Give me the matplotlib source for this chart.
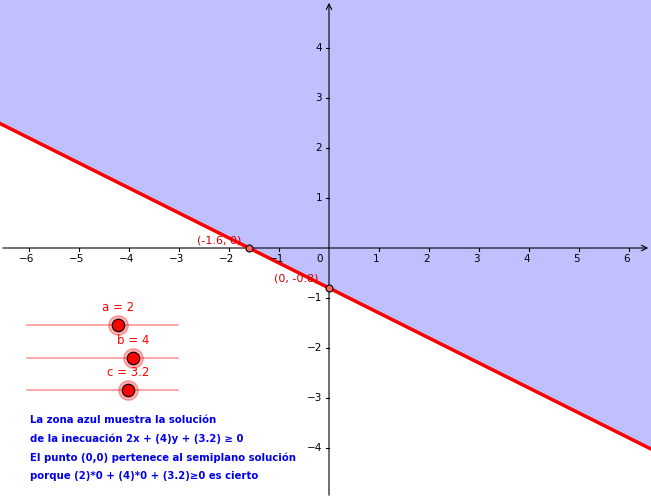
import matplotlib
matplotlib.use("Agg")
import matplotlib.pyplot as plt
import numpy as np

a, b, c = 2, 4, 3.2
slider_names = ["a = 2", "b = 4", "c = 3.2"]
slider_pos = [0.60, 0.70, 0.67]  # fraction along slider
xticks = [-6, -5, -4, -3, -2, -1, 1, 2, 3, 4, 5, 6]
yticks = [-4, -3, -2, -1, 1, 2, 3, 4]
text_lines = ["La zona azul muestra la solución",
              "de la inecuación 2x + (4)y + (3.2) ≥ 0",
              "El punto (0,0) pertenece al semiplano solución",
              "porque (2)*0 + (4)*0 + (3.2)≥0 es cierto"]

xmin, xmax, ymin, ymax = -6.58, 6.44, -5.0, 4.96
fig = plt.figure(figsize=(6.51, 4.98), dpi=100)
ax = fig.add_axes([0, 0, 1, 1])
ax.set_xlim(xmin, xmax); ax.set_ylim(ymin, ymax)
ax.axis("off")

xs = np.array([xmin, xmax])
ys = -(a * xs + c) / b
ax.fill_between(xs, ys, ymax + 1, color="#c0c0ff", lw=0, zorder=0)
ax.plot(xs, ys, color="#ff0000", lw=2.5, zorder=3)

ax.annotate("", xy=(xmax, 0), xytext=(xmin, 0), arrowprops=dict(arrowstyle="->", lw=0.8, color="black"), zorder=2)
ax.annotate("", xy=(0, ymax), xytext=(0, ymin), arrowprops=dict(arrowstyle="->", lw=0.8, color="black"), zorder=2)
for t in xticks:
    ax.plot([t, t], [0, -0.06], color="black", lw=0.8)
    ax.text(t - 0.05, -0.12, f"{t}".replace("-", "−"), ha="center", va="top", fontsize=7.5)
for t in yticks:
    ax.plot([0, -0.06], [t, t], color="black", lw=0.8)
    ax.text(-0.14, t, f"{t}".replace("-", "−"), ha="right", va="center", fontsize=7.5)
ax.text(-0.12, -0.12, "0", ha="right", va="top", fontsize=7.5)

x0 = -c / a
y0 = -c / b
ax.plot([x0, 0], [0, y0], "o", ms=5, mfc="#ff6666", mec="black", mew=0.8, zorder=5)
ax.text(x0 - 0.15, 0.05, f"({x0:g}, 0)", color="#cc0000", ha="right", va="bottom", fontsize=8)
ax.text(-0.2, y0 + 0.1, f"(0, {y0:g})", color="#cc0000", ha="right", va="bottom", fontsize=8)

fx = lambda px: xmin + px / 50
fy = lambda py: ymax - py / 50
for i, (name, p) in enumerate(zip(slider_names, slider_pos)):
    py = 325 + i * 32.5
    x1, x2 = fx(27), fx(178)
    ax.plot([x1, x2], [fy(py)] * 2, color="#ff9999", lw=1.2, zorder=4)
    sx = x1 + p * (x2 - x1)
    ax.plot(sx, fy(py), "o", ms=14, color="#ff0000", alpha=0.3, zorder=5)
    ax.plot(sx, fy(py), "o", ms=9, mfc="#ff0000", mec="black", mew=0.8, zorder=6)
    ax.text(sx, fy(py - 11), name, color="#ff0000", ha="center", va="bottom", fontsize=8.5)

for i, t in enumerate(text_lines):
    ax.text(fx(30), fy(420 + i * 18.7), t, color="#0000ee", fontweight="bold", fontsize=7.3, ha="left", va="center")

fig.savefig("out.png", dpi=100)
